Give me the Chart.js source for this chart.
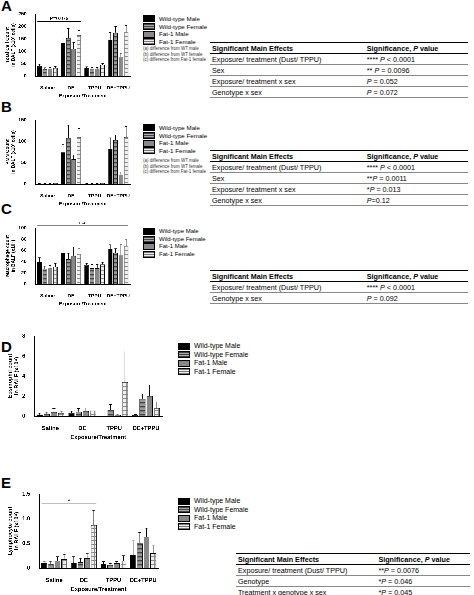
<!DOCTYPE html><html><head><meta charset="utf-8">
<script src="https://cdn.jsdelivr.net/npm/chart.js@4"></script>
<style>
body{margin:0;width:474px;height:595px;position:relative;background:#fff;font-family:Arial,"Liberation Sans",sans-serif;overflow:hidden}
.abs{position:absolute}
.lab{position:absolute;font-weight:bold;font-size:15px}
.leg{position:absolute;font-size:6.5px;line-height:8px}
.leg div{display:flex;align-items:center}
.leg span{display:inline-block;width:10px;height:5px;border:0.6px solid #000;margin-right:4px}
.note{position:absolute;font-size:4.5px;line-height:5.5px;color:#333}
table{position:absolute;border-collapse:collapse;font-size:7.2px}
td{padding:0.5px 2px;height:9px}
th{font-weight:bold;text-align:left;padding:0.5px 2px;border-bottom:1px solid #000;border-top:1px solid #000}
tr td{border-bottom:0.5px solid #888}
</style></head><body>
<div class="lab" style="left:1px;top:-3px">A</div>
<div class="lab" style="left:1px;top:98px">B</div>
<div class="lab" style="left:1px;top:200px">C</div>
<div class="lab" style="left:1px;top:338px">D</div>
<div class="lab" style="left:1px;top:474px">E</div>
<canvas id="cA" class="abs" style="left:4px;top:8px;width:128px;height:92px"></canvas>
<canvas id="cB" class="abs" style="left:4px;top:114px;width:128px;height:94px"></canvas>
<canvas id="cC" class="abs" style="left:4px;top:222px;width:128px;height:86px"></canvas>
<canvas id="cD" class="abs" style="left:6px;top:330px;width:158px;height:112px"></canvas>
<canvas id="cE" class="abs" style="left:6px;top:488px;width:154px;height:106px"></canvas>
<div id="legs"></div>
<div class="note" style="left:143px;top:46px">(a) difference from WT male<br>(b) difference from WT female<br>(c) difference from Fat-1 female</div>
<div class="note" style="left:143px;top:158px">(a) difference from WT male<br>(b) difference from WT female<br>(c) difference from Fat-1 female</div>
<table style="left:210px;top:42px;width:258px"><tr><th>Significant Main Effects</th><th>Significance, <i>P</i> value</th></tr>
<tr><td>Exposure/ treatment (Dust/ TPPU)</td><td>**** <i>P</i> &lt; 0.0001</td></tr>
<tr><td>Sex</td><td>** <i>P</i> = 0.0096</td></tr>
<tr><td>Exposure/ treatment x sex</td><td><i>P</i> = 0.052</td></tr>
<tr><td>Genotype x sex</td><td><i>P</i> = 0.072</td></tr></table>
<table style="left:210px;top:150px;width:258px"><tr><th>Significant Main Effects</th><th>Significance, <i>P</i> value</th></tr>
<tr><td>Exposure/ treatment (Dust/ TPPU)</td><td>**** <i>P</i> &lt; 0.0001</td></tr>
<tr><td>Sex</td><td>**<i>P</i> = 0.0011</td></tr>
<tr><td>Exposure/ treatment x sex</td><td>*<i>P</i> = 0.013</td></tr>
<tr><td>Genotype x sex</td><td><i>P</i>=0.12</td></tr></table>
<table style="left:210px;top:270px;width:258px"><tr><th>Significant Main Effects</th><th>Significance, <i>P</i> value</th></tr>
<tr><td>Exposure/ treatment (Dust/ TPPU)</td><td>**** <i>P</i> &lt; 0.0001</td></tr>
<tr><td>Genotype x sex</td><td><i>P</i> = 0.092</td></tr></table>
<table style="left:236px;top:553px;width:234px"><tr><th>Significant Main Effects</th><th>Significance, <i>P</i> value</th></tr>
<tr><td>Exposure/ treatment (Dust/ TPPU)</td><td>**<i>P</i> = 0.0076</td></tr>
<tr><td>Genotype</td><td>*<i>P</i> = 0.046</td></tr>
<tr><td>Treatment x genotype x sex</td><td>*<i>P</i> = 0.045</td></tr></table>
<script>
const categories=["Saline","DE","TPPU","DE+TPPU"];
const seriesNames=["Wild-type Male","Wild-type Female","Fat-1 Male","Fat-1 Female"];
const totalWTM=[40,132,33,147],totalWTF=[28,153,30,175],totalF1M=[30,110,30,77],totalF1F=[33,165,45,178];
const totalErrWTM=[8,25,4,28],totalErrWTF=[5,38,4,25],totalErrF1M=[4,25,4,15],totalErrF1F=[6,18,6,25];
const pmnWTM=[1,75,1,83],pmnWTF=[0.5,108,1,103],pmnF1M=[0.5,58,1,22],pmnF1F=[2,110,2,110];
const pmnErrWTM=[0.5,18,0.3,25],pmnErrWTF=[0.3,30,0.3,12],pmnErrF1M=[0.3,10,0.3,6],pmnErrF1F=[0.5,20,0.5,25];
const macWTM=[39,56,34,63],macWTF=[27,44,28,56],macF1M=[29,50,28,52],macF1F=[31,54,35,68];
const macErrWTM=[8,10,3,7],macErrWTF=[5,11,7,7],macErrF1M=[4,16,7,18],macErrF1F=[6,10,4,11];
const eosWTM=[0.15,0.3,0,0.1],eosWTF=[0.25,0.45,0.6,1.75],eosF1M=[0.4,0.5,0.15,2.0],eosF1F=[0.3,0.55,3.4,0.8];
const eosErrWTM=[0.15,0.2,0,0.05],eosErrWTF=[0.15,0.3,0.55,0.45],eosErrF1M=[0.35,0.3,0.05,1.1],eosErrF1F=[0.2,0.25,3.1,0.6];
const lymWTM=[0.1,0.11,0.08,0.27],lymWTF=[0.09,0.12,0.06,0.5],lymF1M=[0.15,0.2,0.1,0.63],lymF1F=[0.18,0.87,0.15,0.3];
const lymErrWTM=[0.04,0.12,0.05,0.28],lymErrWTF=[0.05,0.08,0.03,0.22],lymErrF1M=[0.08,0.1,0.03,0.18],lymErrF1F=[0.1,0.3,0.1,0.15];
const yTicksA=[0,50,100,150,200,250],yTicksB=[0,50,100,150],yTicksC=[0,20,40,60,80,100],yTicksD=[0,2,4,6,8],yTicksE=[0,0.5,1.0,1.5];

function pat(kind){const c=document.createElement('canvas');c.width=c.height=4;const g=c.getContext('2d');
 if(kind==='h'){g.fillStyle='#999';g.fillRect(0,0,4,4);g.fillStyle='#444';g.fillRect(0,0,4,1.3);}
 else {g.fillStyle='#eee';g.fillRect(0,0,4,4);g.fillStyle='#777';g.fillRect(0,0,4,0.8);g.fillRect(0,0,0.8,4);}
 return document.createElement('canvas').getContext('2d').createPattern(c,'repeat');}
const fills=['#000',pat('h'),'#888',pat('g')];
const legSw=['background:#000','background:repeating-linear-gradient(#444 0 1px,#aaa 1px 2px)','background:#888','background:repeating-linear-gradient(#777 0 0.6px,#eee 0.6px 2px)'];
function legend(x,y,fs){let h=`<div class="leg" style="left:${x}px;top:${y}px;font-size:${fs}px;line-height:${fs+1.5}px">`;
 seriesNames.forEach((n,i)=>h+=`<div><span style="${legSw[i]}"></span>${n}</div>`);return h+'</div>';}
document.getElementById('legs').innerHTML=legend(143,15,6.2)+legend(143,124,6.2)+legend(143,228,6)+legend(178,342,7)+legend(178,497,7);

const errPlugin={id:'err',afterDatasetsDraw(ch,a,o){const g=ch.ctx;g.save();g.strokeStyle='#000';g.lineWidth=0.6;
 ch.data.datasets.forEach((d,i)=>{const m=ch.getDatasetMeta(i);m.data.forEach((b,j)=>{const e=d.err[j];if(!e)return;
  const y0=ch.scales.y.getPixelForValue(d.data[j]),y1=ch.scales.y.getPixelForValue(d.data[j]+e);const w=b.width*0.25;
  g.beginPath();g.moveTo(b.x,y0);g.lineTo(b.x,y1);g.moveTo(b.x-w,y1);g.lineTo(b.x+w,y1);g.stroke();});});
 (o.lines||[]).forEach(l=>{const xs=ch.scales.x;const x0=xs.getPixelForValue(l[0])-xs.width/8*0.85,x1=xs.getPixelForValue(l[1])+xs.width/8*0.85;
  const y=ch.scales.y.getPixelForValue(l[2]);g.beginPath();g.moveTo(x0,y);g.lineTo(x1,y);g.stroke();g.fillStyle='#000';g.font='5px Arial';g.textAlign='center';g.fillText(l[3],(x0+x1)/2,y-1.5);});
 g.restore();}};

function make(id,vals,errs,ticks,max,title,fs,lines){
 new Chart(document.getElementById(id),{type:'bar',plugins:[errPlugin],
  data:{labels:categories,datasets:vals.map((v,i)=>({data:v,err:errs[i],backgroundColor:fills[i],borderColor:'#000',borderWidth:0.5,barPercentage:0.85,categoryPercentage:0.9}))},
  options:{responsive:false,animation:false,devicePixelRatio:3,layout:{padding:{top:6,right:2}},
   plugins:{legend:{display:false},tooltip:{enabled:false},err:{lines}},
   scales:{x:{grid:{display:false},border:{color:'#000',width:1},ticks:{color:'#000',font:{size:fs,weight:'bold'},padding:1,maxRotation:0,minRotation:0,autoSkip:false},title:{display:true,text:'Exposure/Treatment',color:'#000',font:{size:fs,weight:'bold'},padding:1}},
    y:{min:0,max:max,afterBuildTicks:s=>{s.ticks=ticks.map(v=>({value:v}))},grid:{display:false},border:{color:'#000',width:1},ticks:{color:'#000',font:{size:fs,weight:'bold'},padding:1},title:{display:true,text:title,color:'#000',font:{size:fs-0.3,weight:'bold'},padding:1}}}}});}
function setSize(id){const c=document.getElementById(id);c.width=parseFloat(c.style.width);c.height=parseFloat(c.style.height);}
['cA','cB','cC','cD','cE'].forEach(setSize);
make('cA',[totalWTM,totalWTF,totalF1M,totalF1F],[totalErrWTM,totalErrWTF,totalErrF1M,totalErrF1F],yTicksA,250,['Total Cell Count','in BALF (x10³ cells)'],5,[[0,1,220,'P=0.079']]);
make('cB',[pmnWTM,pmnWTF,pmnF1M,pmnF1F],[pmnErrWTM,pmnErrWTF,pmnErrF1M,pmnErrF1F],yTicksB,150,['PMN Count','in BALF (x10³ cells)'],5,[]);
make('cC',[macWTM,macWTF,macF1M,macF1F],[macErrWTM,macErrWTF,macErrF1M,macErrF1F],yTicksC,100,['Macrophage count','in BALF (x10⁴)'],5,[[0,3,105,'n.s.']]);
make('cD',[eosWTM,eosWTF,eosF1M,eosF1F],[eosErrWTM,eosErrWTF,eosErrF1M,eosErrF1F],yTicksD,8,['Eosinophil count','in BALF (x10⁴)'],5.8,[[0,3,9.1,'n.s.']]);
make('cE',[lymWTM,lymWTF,lymF1M,lymF1F],[lymErrWTM,lymErrWTF,lymErrF1M,lymErrF1F],yTicksE,1.5,['Lymphocyte count','in BALF (x10⁴)'],5.8,[[0,1,1.3,'*']]);
</script></body></html>
